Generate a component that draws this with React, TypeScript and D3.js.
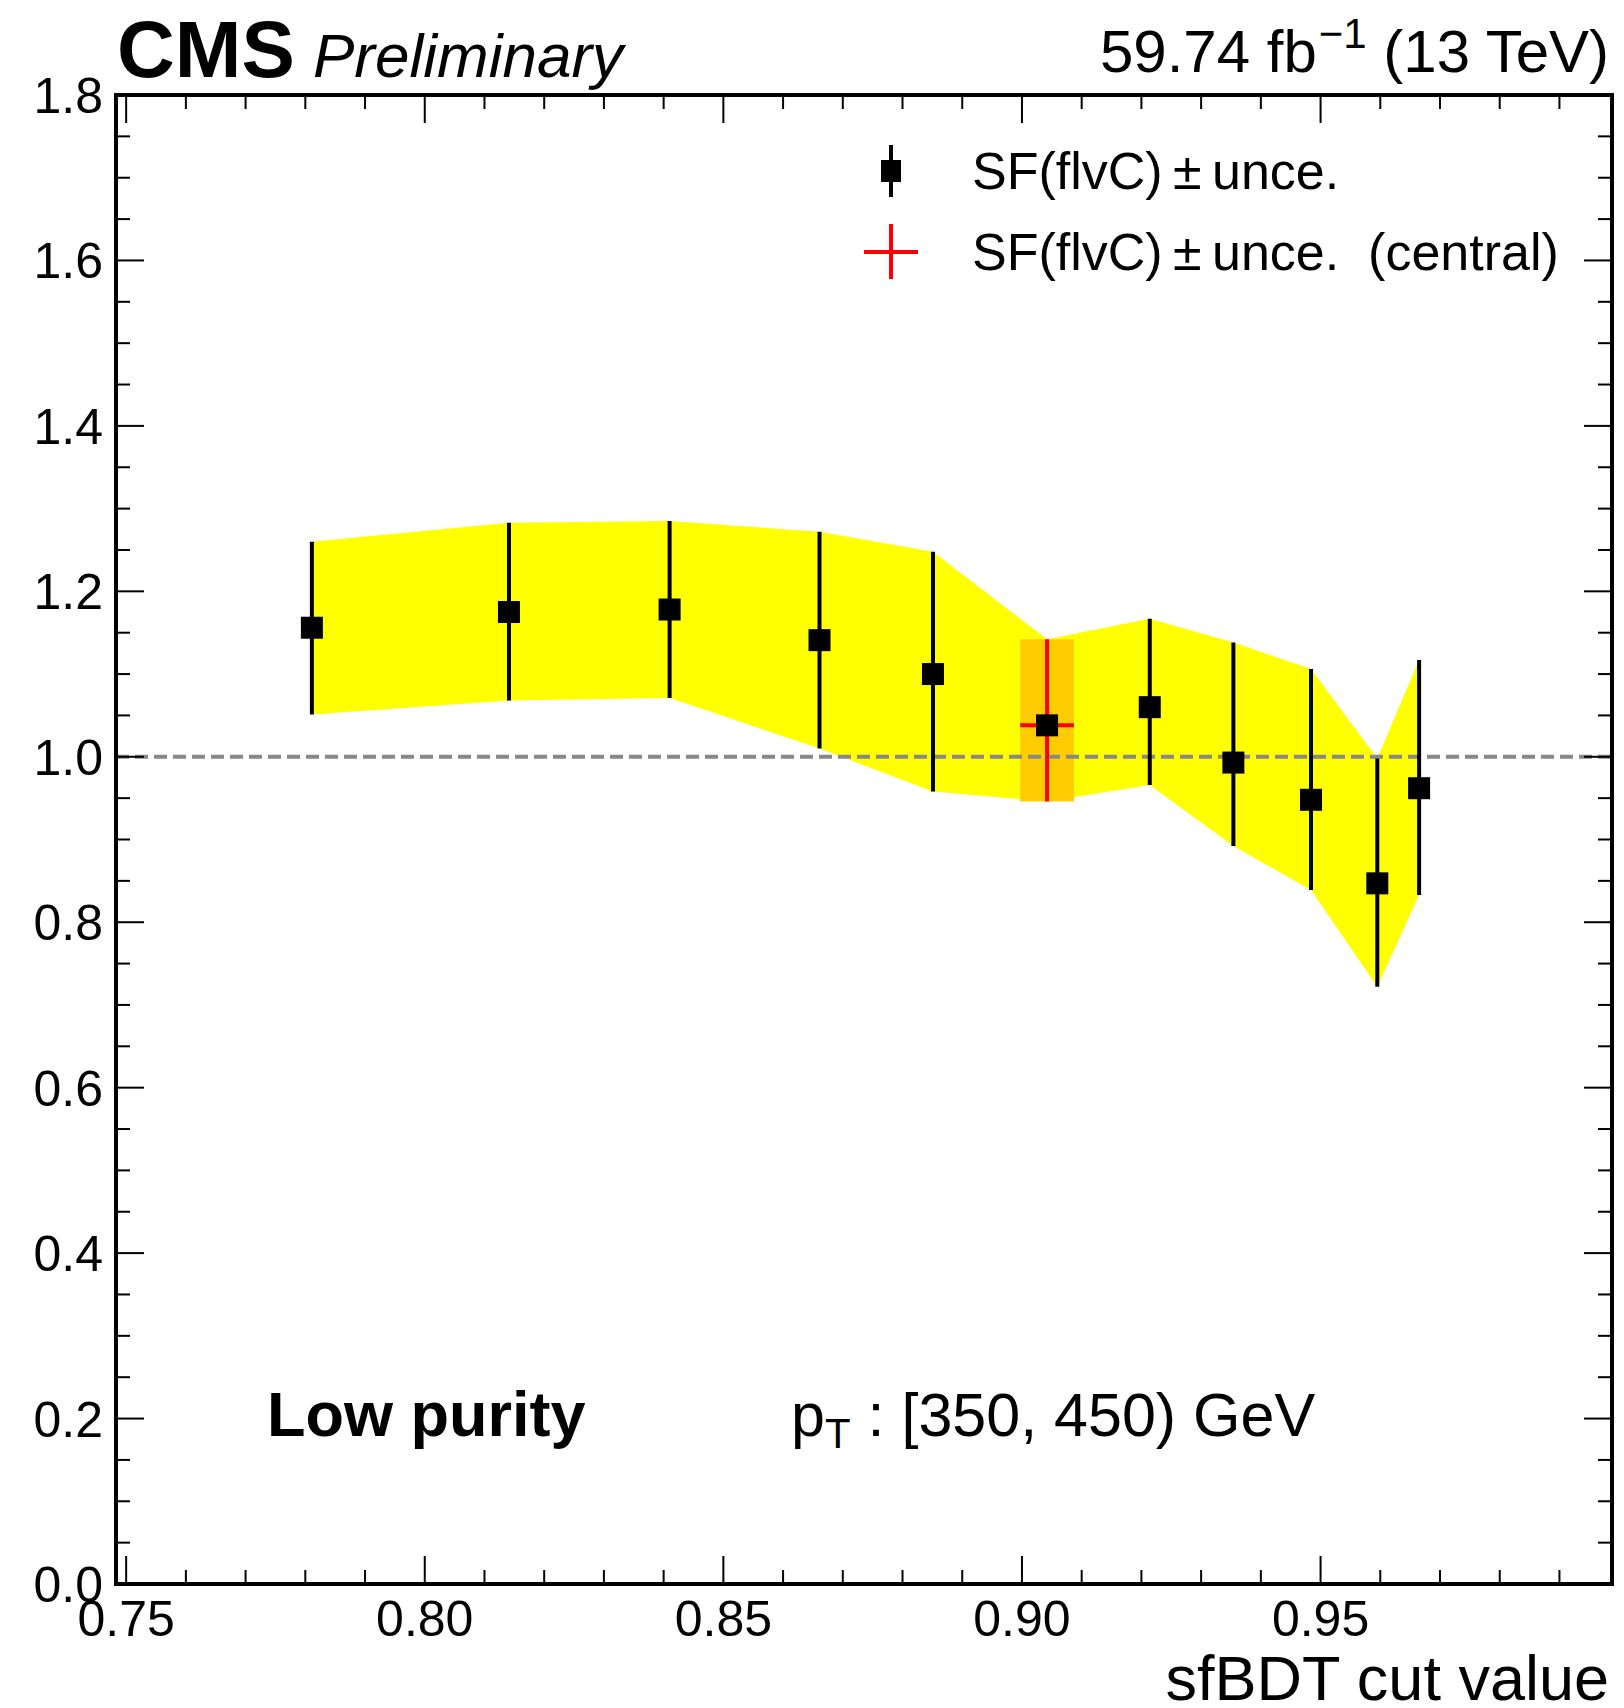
import React from "react";
import * as d3 from "d3";

// ---- data ----
const cutValues = [0.7811, 0.8141, 0.841, 0.8661, 0.8851, 0.9042, 0.9214, 0.9354, 0.9484, 0.9595, 0.9665];
const sfValues = [1.156, 1.175, 1.178, 1.141, 1.1, 1.038, 1.06, 0.993, 0.948, 0.847, 0.962];
const sfUp = [1.26, 1.283, 1.285, 1.272, 1.248, 1.142, 1.167, 1.138, 1.106, 0.998, 1.117];
const sfDown = [1.051, 1.068, 1.071, 1.01, 0.958, 0.946, 0.966, 0.892, 0.839, 0.722, 0.833];
const centralIndex = 5;
const centralHalfWidth = 0.0045;
const xMajorTicks = [0.75, 0.8, 0.85, 0.9, 0.95];
const xTickLabels = ["0.75", "0.80", "0.85", "0.90", "0.95"];
const yMajorTicks = [0, 0.2, 0.4, 0.6, 0.8, 1.0, 1.2, 1.4, 1.6, 1.8];
const yTickLabels = ["0.0", "0.2", "0.4", "0.6", "0.8", "1.0", "1.2", "1.4", "1.6", "1.8"];
const legendLabels = ["SF(flvC)\u2009±\u2009unce.", "SF(flvC)\u2009±\u2009unce.  (central)"];

const W = 1624;
const H = 1708;
const L = 116, R = 1612, T = 95, B = 1584;
const FONT = "'Liberation Sans', Arial, Helvetica, sans-serif";

export default function App() {
  const x = d3.scaleLinear().domain([0.7483, 0.9988]).range([L, R]);
  const y = d3.scaleLinear().domain([0, 1.8]).range([B, T]);

  const xMinor = d3.range(75, 100).map((v) => v / 100).filter((v) => !xMajorTicks.some((m) => Math.abs(m - v) < 1e-6));
  const yMinor = d3.range(0, 37).map((v) => v * 0.05).filter((v) => !yMajorTicks.some((m) => Math.abs(m - v) < 1e-6));

  const band = d3
    .area<number>()
    .x((i) => x(cutValues[i]))
    .y0((i) => y(sfDown[i]))
    .y1((i) => y(sfUp[i]));
  const idx = cutValues.map((_, i) => i);

  const majLen = 28;
  const minLen = 14;
  const c = centralIndex;

  return (
    <svg width={W} height={H} style={{ position: "absolute", left: 0, top: 0, background: "#fff" }} fontFamily={FONT}>
      <rect x={0} y={0} width={W} height={H} fill="#fff" />
      {/* band */}
      <path d={band(idx) || ""} fill="#ffff00" stroke="none" />
      {/* central box */}
      <rect
        x={x(cutValues[c] - centralHalfWidth)}
        y={y(sfUp[c])}
        width={x(cutValues[c] + centralHalfWidth) - x(cutValues[c] - centralHalfWidth)}
        height={y(sfDown[c]) - y(sfUp[c])}
        fill="#ffcc00"
      />
      {/* reference line */}
      <line x1={L} x2={R} y1={y(1)} y2={y(1)} stroke="#888888" strokeWidth={4} strokeDasharray="13 6" />
      {/* error bars */}
      {idx.map((i) => (
        <line
          key={"e" + i}
          x1={x(cutValues[i])}
          x2={x(cutValues[i])}
          y1={y(sfUp[i])}
          y2={y(sfDown[i])}
          stroke={i === c ? "#ff0000" : "#000"}
          strokeWidth={4}
        />
      ))}
      <line
        x1={x(cutValues[c] - centralHalfWidth)}
        x2={x(cutValues[c] + centralHalfWidth)}
        y1={y(sfValues[c])}
        y2={y(sfValues[c])}
        stroke="#ff0000"
        strokeWidth={4}
      />
      {/* markers */}
      {idx.map((i) => (
        <rect key={"m" + i} x={x(cutValues[i]) - 11} y={y(sfValues[i]) - 11} width={22} height={22} fill="#000" />
      ))}

      {/* ticks */}
      {xMajorTicks.map((v) => (
        <g key={"xt" + v}>
          <line x1={x(v)} x2={x(v)} y1={B} y2={B - majLen} stroke="#000" strokeWidth={2} />
          <line x1={x(v)} x2={x(v)} y1={T} y2={T + majLen} stroke="#000" strokeWidth={2} />
        </g>
      ))}
      {xMinor.map((v) => (
        <g key={"xm" + v}>
          <line x1={x(v)} x2={x(v)} y1={B} y2={B - minLen} stroke="#000" strokeWidth={2} />
          <line x1={x(v)} x2={x(v)} y1={T} y2={T + minLen} stroke="#000" strokeWidth={2} />
        </g>
      ))}
      {yMajorTicks.map((v) => (
        <g key={"yt" + v}>
          <line x1={L} x2={L + majLen} y1={y(v)} y2={y(v)} stroke="#000" strokeWidth={2} />
          <line x1={R} x2={R - majLen} y1={y(v)} y2={y(v)} stroke="#000" strokeWidth={2} />
        </g>
      ))}
      {yMinor.map((v) => (
        <g key={"ym" + v}>
          <line x1={L} x2={L + minLen} y1={y(v)} y2={y(v)} stroke="#000" strokeWidth={2} />
          <line x1={R} x2={R - minLen} y1={y(v)} y2={y(v)} stroke="#000" strokeWidth={2} />
        </g>
      ))}

      {/* frame */}
      <rect x={L} y={T} width={R - L} height={B - T} fill="none" stroke="#000" strokeWidth={4} />

      {/* tick labels */}
      {xMajorTicks.map((v, i) => (
        <text key={"xl" + v} x={x(v)} y={1636} fontSize={50} textAnchor="middle">
          {xTickLabels[i]}
        </text>
      ))}
      {yMajorTicks.map((v, i) => (
        <text key={"yl" + v} x={103} y={y(v) + 18} fontSize={50} textAnchor="end">
          {yTickLabels[i]}
        </text>
      ))}

      {/* axis title */}
      <text x={1609} y={1700} fontSize={63} textAnchor="end">
        sfBDT cut value
      </text>

      {/* header */}
      <text x={117} y={77} fontSize={80} fontWeight="bold">
        CMS
      </text>
      <text x={313} y={77} fontSize={62} fontStyle="italic">
        Preliminary
      </text>
      <text x={1609} y={72} fontSize={60} textAnchor="end" style={{ whiteSpace: "pre" }}>
        {"59.74 fb"}
        <tspan fontSize={42} dx={2} dy={-24}>
          −1
        </tspan>
        <tspan dy={24}>{" (13 TeV)"}</tspan>
      </text>

      {/* legend */}
      <line x1={891} x2={891} y1={145} y2={197} stroke="#000" strokeWidth={4} />
      <rect x={881} y={160} width={20} height={22} fill="#000" />
      <text x={972} y={189} fontSize={52}>
        {legendLabels[0]}
      </text>
      <line x1={864} x2={918} y1={252} y2={252} stroke="#ff0000" strokeWidth={4} />
      <line x1={891} x2={891} y1={224} y2={279} stroke="#ff0000" strokeWidth={4} />
      <text x={972} y={270} fontSize={52} style={{ whiteSpace: "pre" }}>
        {legendLabels[1]}
      </text>

      {/* annotations */}
      <text x={267} y={1436} fontSize={63} fontWeight="bold">
        Low purity
      </text>
      <text x={791} y={1436} fontSize={61}>
        p
        <tspan fontSize={42} dy={12}>
          T
        </tspan>
        <tspan dy={-12}> : [350, 450) GeV</tspan>
      </text>
    </svg>
  );
}
